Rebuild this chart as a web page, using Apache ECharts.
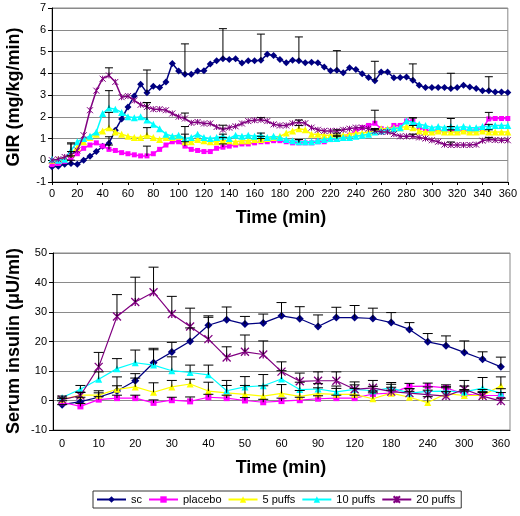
<!DOCTYPE html>
<html><head><meta charset="utf-8">
<script src="https://cdn.jsdelivr.net/npm/echarts/dist/echarts.min.js"></script>
<style>html,body{margin:0;padding:0;background:#fff}#c{width:520px;height:516px}</style>
</head><body><div id="c"></div>
<script>
// ---------- data ----------
const seriesNames = ['sc', 'placebo', '5 puffs', '10 puffs', '20 puffs'];

// Top panel: GIR (mg/kg/min) vs time (min)
const girTimes = [0,5,10,15,20,25,30,35,40,45,50,55,60,65,70,75,80,85,90,95,100,105,110,115,120,125,130,135,140,145,150,155,160,165,170,175,180,185,190,195,200,205,210,215,220,225,230,235,240,245,250,255,260,265,270,275,280,285,290,295,300,305,310,315,320,325,330,335,340,345,350,355,360];
const girSc = [-0.3,-0.28,-0.18,-0.15,-0.18,0.0,0.18,0.4,0.64,0.78,
  1.38,1.9,2.45,2.95,3.5,3.1,3.4,3.35,3.6,4.45,
  4.1,3.95,3.95,4.1,4.12,4.42,4.57,4.67,4.63,4.67,
  4.47,4.57,4.57,4.6,4.87,4.82,4.63,4.48,4.6,4.57,
  4.48,4.51,4.48,4.29,4.11,4.14,4.02,4.25,4.17,3.98,
  3.8,3.65,4.06,4.06,3.79,3.8,3.83,3.68,3.45,3.34,
  3.34,3.34,3.34,3.3,3.34,3.45,3.37,3.3,3.19,3.19,
  3.14,3.14,3.12];
const girPlacebo = [-0.2,-0.15,-0.05,0.1,0.3,0.55,0.7,0.8,0.65,0.5,
  0.45,0.35,0.3,0.25,0.2,0.2,0.3,0.5,0.7,0.85,
  0.85,0.65,0.5,0.45,0.4,0.4,0.55,0.6,0.65,0.7,
  0.75,0.75,0.8,0.85,0.85,0.9,0.9,0.85,0.8,0.8,
  0.8,0.8,0.85,0.85,0.95,1.0,1.05,1.15,1.35,1.5,
  1.6,1.7,1.45,1.4,1.6,1.6,1.8,1.8,1.5,1.4,
  1.35,1.35,1.35,1.4,1.35,1.35,1.35,1.4,1.45,1.9,
  1.92,1.92,1.92];
const gir5 = [0.0,0.05,0.1,0.3,0.6,0.85,1.05,1.2,1.35,1.5,
  1.3,1.2,1.1,1.05,1.05,1.15,1.05,0.95,1.05,1.05,
  1.1,0.85,0.85,0.95,0.9,0.85,0.85,0.9,0.9,0.85,
  0.9,0.9,0.95,0.95,1.0,1.05,1.1,1.25,1.35,1.45,
  1.4,1.2,1.2,1.15,1.15,1.15,1.15,1.2,1.25,1.25,
  1.3,1.35,1.45,1.45,1.5,1.5,1.55,1.5,1.35,1.3,
  1.3,1.35,1.3,1.3,1.3,1.35,1.3,1.3,1.35,1.3,
  1.3,1.3,1.3];
const gir10 = [0.05,0.0,0.05,0.45,0.85,1.0,1.1,1.3,2.15,2.4,
  2.35,2.2,2.0,1.95,2.0,1.85,1.65,1.45,1.2,1.1,
  1.15,1.0,1.05,1.2,1.05,1.0,1.05,1.1,1.0,1.15,
  1.1,1.15,1.1,1.15,1.05,1.1,1.05,0.95,0.9,0.85,
  0.85,0.85,0.9,0.95,1.0,1.0,1.05,1.05,1.1,1.15,
  1.2,1.3,1.35,1.4,1.45,1.5,1.8,1.75,1.65,1.6,
  1.5,1.55,1.5,1.55,1.5,1.55,1.5,1.5,1.55,1.55,
  1.6,1.6,1.6];
const gir20 = [0.0,0.05,0.15,0.25,0.45,1.15,2.3,3.2,3.75,3.9,
  3.6,2.9,2.95,2.75,2.55,2.45,2.35,2.35,2.3,2.15,
  2.0,1.92,1.72,1.76,1.69,1.69,1.53,1.41,1.5,1.56,
  1.69,1.8,1.84,1.86,1.8,1.65,1.6,1.6,1.7,1.75,
  1.7,1.5,1.4,1.35,1.35,1.35,1.4,1.45,1.5,1.5,
  1.45,1.35,1.3,1.3,1.2,1.1,1.1,1.1,1.05,1.0,
  0.92,0.85,0.72,0.7,0.7,0.7,0.7,0.72,0.9,0.95,
  0.93,0.92,0.92];
// error bars (upper) of the top panel
const girErrTimes = [15,45,75,105,135,165,195,225,255,285,315,345];
const girErrSc = [0.15,0.3,1.05,1.4,1.38,1.2,1.1,0.9,0.9,0.75,0.7,0.65];
const girErrPlacebo = [0.1,0.2,0.45,0.2,0.15,0.15,0.15,0.15,0.6,0.15,0.15,0.3];
const girErr5 = [0.1,0.7,0.35,0.7,0.15,0.15,0.15,0.1,0.1,0.1,0.1,0.1];
const girErr10 = [0.35,0.8,0.8,0.2,0.1,0.1,0.1,0.1,0.1,0.2,0.37,0.1];
const girErr20 = [0.5,0.35,0.2,0.25,0.2,0.1,0.1,0.05,0.1,0.1,0.14,0.1];
const girYTicks = [-1, 7, 1];   // min, max, step
const girXTicks = [0, 360, 20];

// Bottom panel: serum insulin (µU/ml)
const insTimes = ['0','5','10','15','20','25','30','35','40','45','50','55','60','75','90','105','120','150','180','210','240','270','300','330','360'];
const insSc = [-1.4,-0.4,1.1,3.2,6.7,12.8,16.4,20.1,25.5,27.4,25.9,26.3,28.7,27.7,25.1,28.1,28.1,27.8,26.4,24.1,19.9,18.6,16.3,14.0,11.4];
const insPlacebo = [-0.6,-2.0,0.3,0.8,0.8,-0.8,0.1,-0.3,1.1,0.8,0.0,-0.6,-0.2,0.1,0.6,0.8,0.8,2.2,2.5,4.8,4.9,4.3,2.2,1.7,1.7];
const ins5 = [0.3,1.8,1.8,3.8,4.6,2.8,4.6,5.6,3.2,2.6,2.1,1.5,2.4,1.4,2.3,2.1,2.1,0.6,2.5,1.1,-0.7,2.3,1.7,1.7,5.0];
const ins10 = [1.0,3.8,7.2,10.8,12.8,12.0,10.1,9.5,8.7,3.3,4.6,5.0,7.3,3.7,3.9,2.9,3.8,3.3,4.3,2.5,3.1,3.2,2.9,4.2,2.5];
const ins20 = [0.3,1.7,11.4,28.5,33.4,36.7,29.3,25.1,20.8,14.6,16.5,15.6,9.8,6.5,6.7,6.7,3.8,4.3,3.0,2.5,2.0,1.5,3.8,1.5,-0.2];
const insErrSc = [0,1.5,1.5,1.8,2.4,4.9,3.3,4.5,3.2,4.3,2.6,3.0,4.5,4.1,3.9,3.5,4.1,3.5,3.4,2.3,2.8,3.3,3.9,2.5,3.3];
const insErrPlacebo = [0.5,1,1,1,1,1,1,1.5,1,1,1,1,1,1,1,1,1,1,1,1,1,1,1,1,1];
const insErr5 = [0.5,1,1.5,4.2,3,3.2,2.2,1.6,3,2.5,3,3.5,3,2,2,2,2,2,2,2,2,2,2,2,3];
const insErr10 = [0.5,1.3,2.5,3.4,4.3,5.2,4.7,2.5,3.3,3.5,3.5,3.8,2.8,2.5,1.8,2,1.5,1.5,1.8,1.5,1.5,1.5,2,3.6,1.5];
const insErr20 = [0.5,1,4.9,7.4,8.4,8.5,6,6.2,7.4,3.6,5.7,4.6,3.3,2.8,3,3,2.5,2.5,2.5,1.5,1.5,1.5,3,1.5,1];
const insYTicks = [-10, 50, 10];

// ---------- styling ----------
const colors = ['#000080', '#ff00ff', '#ffff00', '#00ffff', '#800080'];
const starPath = 'path://M0,0 L10,10 M10,0 L0,10 M5,0 L5,10';
const symbols = ['diamond', 'rect', 'triangle', 'triangle', starPath];
const topSizes = [7, 5, 7, 7, 6];
const botSizes = [8, 6, 7, 7, 8];
const FONT = '"Liberation Sans", Arial, sans-serif';

const girData = [girSc, girPlacebo, gir5, gir10, gir20];
const girErr = [girErrSc, girErrPlacebo, girErr5, girErr10, girErr20];
const insData = [insSc, insPlacebo, ins5, ins10, ins20];
const insErr = [insErrSc, insErrPlacebo, insErr5, insErr10, insErr20];

function lineSeries(i, top) {
  const data = top ? girTimes.map((t, k) => [t, girData[i][k]]) : insData[i];
  return {
    type: 'line', name: seriesNames[i],
    xAxisIndex: top ? 0 : 1, yAxisIndex: top ? 0 : 1,
    data: data,
    symbol: symbols[i], symbolSize: top ? topSizes[i] : botSizes[i],
    showSymbol: true, showAllSymbol: true,
    lineStyle: { color: colors[i], width: top ? 1.5 : 1.2 },
    itemStyle: { color: colors[i], borderColor: colors[i], borderWidth: i === 4 ? (top ? 1 : 1.3) : 0 },
    z: 2 + i, animation: false
  };
}

const girBars = [];
girErrTimes.forEach((t, j) => {
  const k = girTimes.indexOf(t);
  for (let i = 0; i < 5; i++) girBars.push([t, girData[i][k], girData[i][k] + girErr[i][j]]);
});
const insBars = [];
insTimes.forEach((t, k) => {
  for (let i = 0; i < 5; i++) insBars.push([k, insData[i][k], insData[i][k] + insErr[i][k]]);
});

function errRender(w) {
  return function (params, api) {
    const x = api.value(0), m = api.value(1), tp = api.value(2);
    const p1 = api.coord([x, m]), p2 = api.coord([x, tp]);
    const st = { stroke: '#000', lineWidth: 1 };
    return { type: 'group', children: [
      { type: 'line', shape: { x1: p1[0], y1: p1[1], x2: p2[0], y2: p2[1] }, style: st },
      { type: 'line', shape: { x1: p2[0] - w, y1: p2[1], x2: p2[0] + w, y2: p2[1] }, style: st }
    ]};
  };
}

const axisLbl = { color: '#000', fontSize: 11, fontFamily: FONT };
const series = [];
for (let i = 0; i < 5; i++) series.push(lineSeries(i, true));
series.push({ type: 'custom', xAxisIndex: 0, yAxisIndex: 0, data: girBars, renderItem: errRender(4), z: 10, animation: false, silent: true });
for (let i = 0; i < 5; i++) series.push(lineSeries(i, false));
series.push({ type: 'custom', xAxisIndex: 1, yAxisIndex: 1, data: insBars, renderItem: errRender(5), z: 10, animation: false, silent: true });

const titleStyle = { fill: '#000', font: 'bold 18px ' + FONT, textAlign: 'center', textVerticalAlign: 'middle' };

const option = {
  animation: false,
  backgroundColor: '#fff',
  grid: [
    { left: 52, top: 8, width: 458, height: 174, show: true, borderColor: '#888', borderWidth: 1 },
    { left: 53, top: 253, width: 457, height: 177, show: true, borderColor: '#888', borderWidth: 1 }
  ],
  xAxis: [
    { type: 'value', gridIndex: 0, min: girXTicks[0], max: girXTicks[1], interval: girXTicks[2],
      axisLine: { onZero: false, lineStyle: { color: '#000' } },
      axisTick: { show: true, length: 3, lineStyle: { color: '#000' } },
      splitLine: { show: false }, axisLabel: Object.assign({ margin: 6 }, axisLbl) },
    { type: 'category', gridIndex: 1, data: insTimes, boundaryGap: true,
      axisLine: { onZero: false, lineStyle: { color: '#000' } },
      axisTick: { show: false },
      axisLabel: Object.assign({ margin: 8, interval: 1 }, axisLbl) }
  ],
  yAxis: [
    { type: 'value', gridIndex: 0, min: girYTicks[0], max: girYTicks[1], interval: girYTicks[2],
      axisLine: { show: true, lineStyle: { color: '#000' } },
      axisTick: { show: true, length: 4, lineStyle: { color: '#000' } },
      splitLine: { lineStyle: { color: '#8a8a8a', width: 1 } },
      axisLabel: Object.assign({ margin: 6 }, axisLbl) },
    { type: 'value', gridIndex: 1, min: insYTicks[0], max: insYTicks[1], interval: insYTicks[2],
      axisLine: { show: true, lineStyle: { color: '#000' } },
      axisTick: { show: true, length: 4, lineStyle: { color: '#000' } },
      splitLine: { lineStyle: { color: '#8a8a8a', width: 1 } },
      axisLabel: Object.assign({ margin: 6 }, axisLbl) }
  ],
  legend: {
    data: seriesNames, left: 93, top: 491, orient: 'horizontal',
    borderColor: '#333', borderWidth: 1, padding: [3, 6, 3, 3],
    itemWidth: 29, itemHeight: 8, itemGap: 6,
    textStyle: { color: '#000', fontSize: 11, fontFamily: FONT }
  },
  graphic: [
    { type: 'text', x: 14, y: 97, rotation: Math.PI / 2, style: Object.assign({ text: 'GIR (mg/kg/min)' }, titleStyle) },
    { type: 'text', x: 281, y: 218, style: Object.assign({ text: 'Time (min)' }, titleStyle) },
    { type: 'text', x: 14, y: 341, rotation: Math.PI / 2, style: Object.assign({ text: 'Serum insulin (\u03BCU/ml)' }, titleStyle) },
    { type: 'text', x: 281, y: 468, style: Object.assign({ text: 'Time (min)' }, titleStyle) }
  ],
  series: series
};
const chart = echarts.init(document.getElementById('c'), null, { renderer: 'canvas' });
chart.setOption(option);
</script></body></html>
